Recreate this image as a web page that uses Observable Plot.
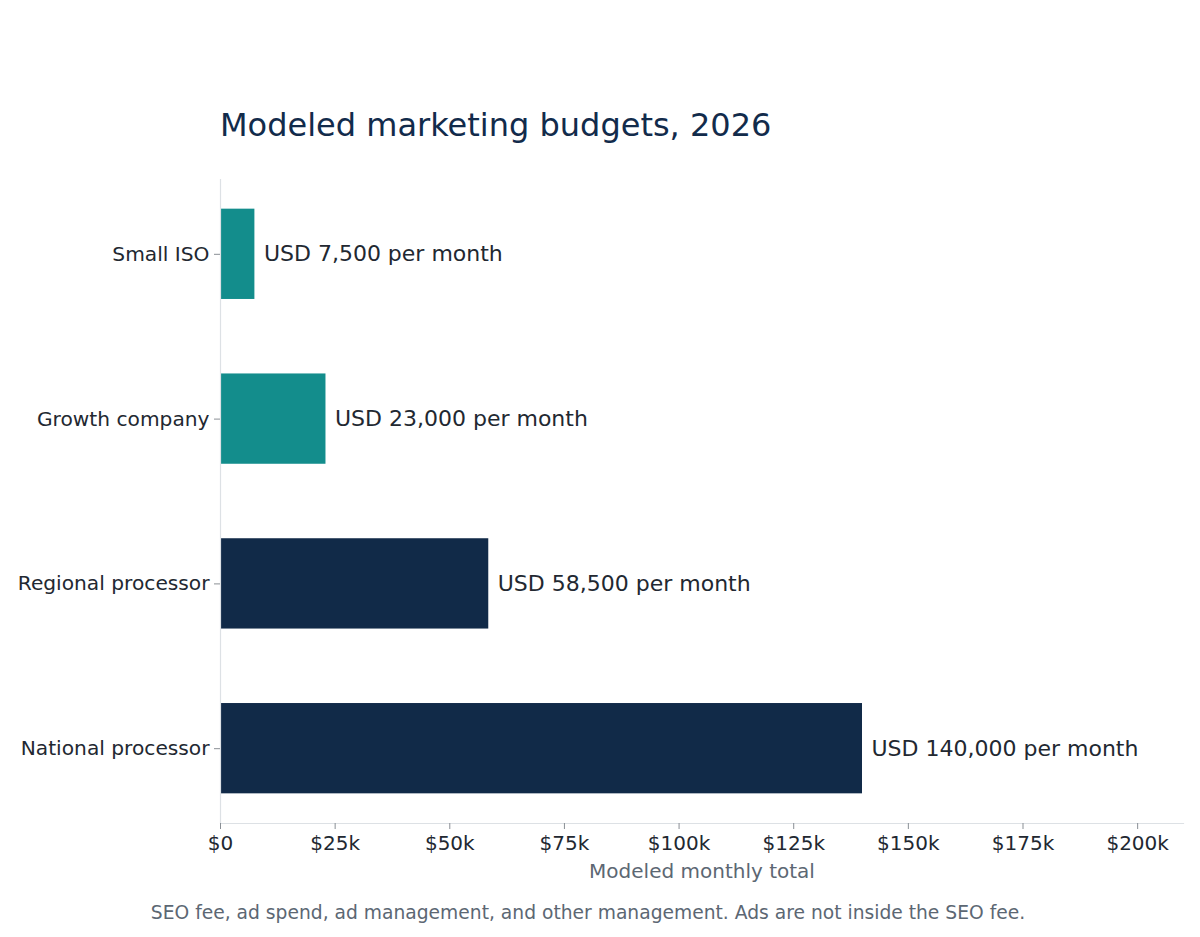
<!DOCTYPE html>
<html>
<head>
<meta charset="utf-8">
<script src="https://cdn.jsdelivr.net/npm/d3@7"></script>
<script src="https://cdn.jsdelivr.net/npm/@observablehq/plot@0.6"></script>
<style>
  body { margin: 0; background: #fff; font-family: "DejaVu Sans", sans-serif; }
  #wrap { width: 1200px; }
  #title { box-sizing: border-box; height: 160px; padding: 106px 0 0 220px; font-size: 32px; line-height: 38px; color: #122b4b; white-space: nowrap; }
  #caption { text-align: center; width: 1176px; font-size: 18.7px; line-height: 22px; color: #5c6773; margin-top: 2px; white-space: nowrap; }
  g[aria-label="y-axis tick"], g[aria-label="x-axis tick"] { stroke: #8a8f95; }
  g[aria-label="x-axis label"] { fill: #5c6773; }
</style>
</head>
<body>
<div id="wrap">
  <div id="title">Modeled marketing budgets, 2026</div>
  <div id="chart"></div>
  <div id="caption">SEO fee, ad spend, ad management, and other management. Ads are not inside the SEO fee.</div>
</div>
<script>
const categories = ["Small ISO", "Growth company", "Regional processor", "National processor"];
const values = [7500, 23000, 58500, 140000];
const labels = ["USD 7,500 per month", "USD 23,000 per month", "USD 58,500 per month", "USD 140,000 per month"];
const groups = ["small", "small", "large", "large"];
const xTicks = [0, 25000, 50000, 75000, 100000, 125000, 150000, 175000, 200000];
const xTickLabels = ["$0", "$25k", "$50k", "$75k", "$100k", "$125k", "$150k", "$175k", "$200k"];

const data = categories.map((c, i) => ({category: c, value: values[i], label: labels[i], group: groups[i]}));

const chart = Plot.plot({
  width: 1200,
  height: 740,
  marginTop: 19,
  marginBottom: 77,
  marginLeft: 220,
  marginRight: 17,
  style: {fontFamily: "DejaVu Sans, sans-serif", fontSize: "20px", color: "#222831", background: "#fff"},
  x: {domain: [0, 210000]},
  y: {domain: categories, paddingInner: 0.452, paddingOuter: 0.18, round: false},
  color: {domain: ["small", "large"], range: ["#138d8c", "#112a48"]},
  marks: [
    Plot.barX(data, {x: "value", y: "category", fill: "group"}),
    Plot.ruleX([0], {stroke: "#dde1e5", strokeWidth: 1.2}),
    Plot.frame({anchor: "bottom", stroke: "#dde1e5", strokeWidth: 1.2}),
    Plot.text(data, {x: "value", y: "category", text: "label", textAnchor: "start", dx: 9, fontSize: 22, fill: "#222831"}),
    Plot.axisY({tickSize: 6, tickPadding: 5, label: null, fontSize: 20.2}),
    Plot.axisX({ticks: xTicks, tickFormat: d => xTickLabels[xTicks.indexOf(d)], tickSize: 6, tickPadding: 6, fontSize: 20,
      label: "Modeled monthly total", labelAnchor: "center", labelArrow: "none", labelOffset: 54})
  ]
});
document.getElementById("chart").appendChild(chart);
</script>
</body>
</html>
